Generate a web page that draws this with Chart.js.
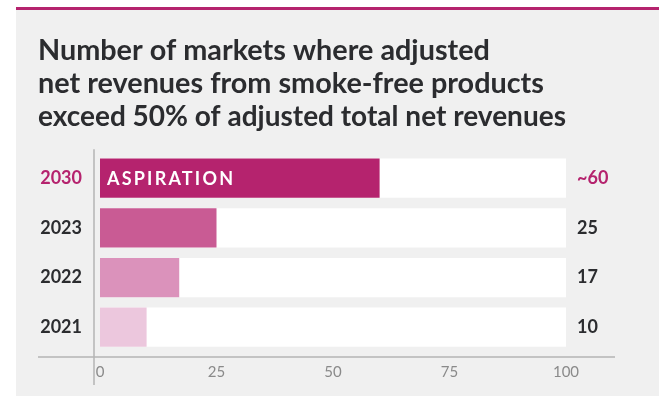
<!DOCTYPE html>
<html>
<head>
<meta charset="utf-8">
<script src="https://cdn.jsdelivr.net/npm/chart.js@4"></script>
<style>
  html, body { margin: 0; padding: 0; background: #ffffff; }
  #panel {
    position: absolute;
    left: 16px;
    top: 7px;
    width: 643px;
    height: 386px;
    border-top: 3px solid #b5236e;
    background: #f0f0f0;
  }
  canvas { display: block; }
</style>
</head>
<body>
<div id="panel"><canvas id="markets" width="643" height="386"></canvas></div>
<script>
// markets where smoke-free share of net revenues is above 50%
const years = ["2030", "2023", "2022", "2021"];
const markets = [60, 25, 17, 10];
const approx = [true, false, false, false];
const barColors = ["#b5236e", "#c95b94", "#db92bb", "#ecc7dd"];
const axisMax = 100;
const tickStep = 25;

const magenta = "#b5236e";
const dark = "#2b2c2f";

// value labels to the right of the track + the "ASPIRATION" tag + axis lines
const decorations = {
  id: "decorations",
  afterDatasetsDraw(chart) {
    const ctx = chart.ctx;
    const area = chart.chartArea;
    const meta = chart.getDatasetMeta(0);

    ctx.save();
    ctx.strokeStyle = "#b4b4b4";
    ctx.lineWidth = 1.5;
    ctx.beginPath();
    ctx.moveTo(area.left - 6, area.top - 4);
    ctx.lineTo(area.left - 6, area.bottom + 33);
    ctx.moveTo(22, area.bottom + 5);
    ctx.lineTo(area.right + 49, area.bottom + 5);
    ctx.stroke();

    ctx.font = "bold 18px Lato";
    ctx.textBaseline = "middle";
    ctx.textAlign = "left";
    meta.data.forEach((bar, i) => {
      ctx.fillStyle = approx[i] ? magenta : dark;
      ctx.fillText((approx[i] ? "~" : "") + markets[i], area.right + 11, bar.y);
    });

    const top = meta.data[0];
    ctx.fillStyle = "#ffffff";
    ctx.font = "bold 18px Lato";
    ctx.letterSpacing = "2.2px";
    ctx.fillText("ASPIRATION", area.left + 7, top.y + 1);
    ctx.restore();
  }
};

new Chart(document.getElementById("markets"), {
  type: "bar",
  data: {
    labels: years,
    datasets: [
      {
        data: markets,
        backgroundColor: barColors,
        order: 1,
      },
      {
        // white track behind each bar, running to the end of the scale
        data: years.map(() => axisMax),
        backgroundColor: "#ffffff",
        order: 2,
      },
    ],
  },
  options: {
    indexAxis: "y",
    responsive: false,
    devicePixelRatio: 1,
    animation: false,
    datasets: {
      bar: {
        grouped: false,
        barPercentage: 0.79,
        categoryPercentage: 1,
        borderWidth: 0,
      },
    },
    layout: {
      padding: { left: 22, right: 93, top: 0, bottom: 4 },
    },
    plugins: {
      legend: { display: false },
      tooltip: { enabled: false },
      title: {
        display: true,
        align: "start",
        color: dark,
        text: [
          "Number of markets where adjusted",
          "net revenues from smoke-free products",
          "exceed 50% of adjusted total net revenues",
        ],
        font: { family: "Lato", size: 28.8, weight: "bold", lineHeight: 1.15 },
        padding: { top: 24, bottom: 20 },
      },
    },
    scales: {
      x: {
        min: 0,
        max: axisMax,
        border: { display: false },
        grid: { display: false, drawTicks: false },
        ticks: {
          stepSize: tickStep,
          color: "#8a8a8a",
          padding: 11,
          font: { family: "Lato", size: 15 },
        },
      },
      y: {
        border: { display: false },
        grid: { display: false, drawTicks: false },
        afterFit: (scale) => { scale.width = 62; },
        ticks: {
          padding: 18,
          color: (c) => (c.index === 0 ? magenta : dark),
          font: { family: "Lato", size: 18, weight: "bold" },
        },
      },
    },
  },
  plugins: [decorations],
});
</script>
</body>
</html>
